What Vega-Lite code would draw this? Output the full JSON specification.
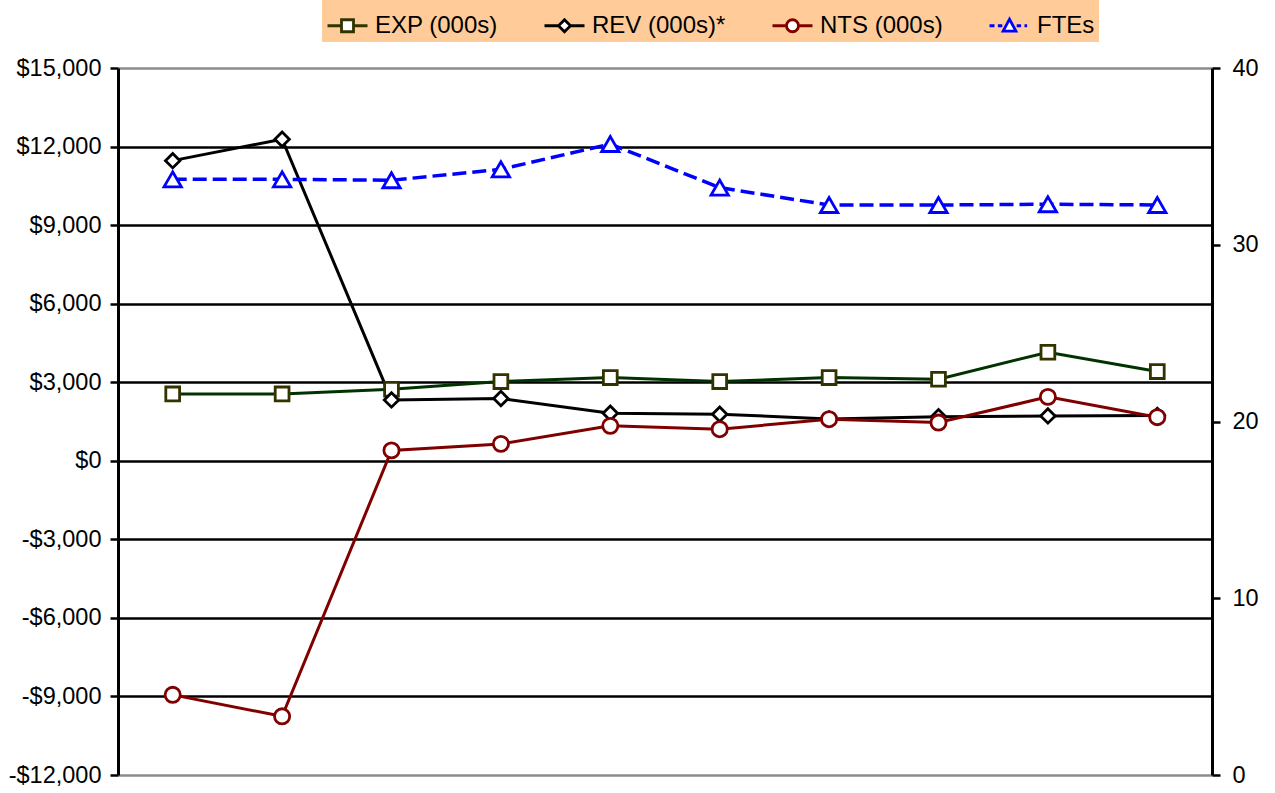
{
  "$schema": "https://vega.github.io/schema/vega-lite/v6.json",
  "autosize": {"type": "none"},
  "padding": {"left": 118, "top": 68, "right": 63, "bottom": 18},
  "width": 1094,
  "height": 707,
  "background": "white",
  "config": {
    "view": {"stroke": null},
    "font": "Liberation Sans"
  },
  "data": {
    "values": [
      {"x": 1, "series": "EXP (000s)", "value": 2554},
      {"x": 2, "series": "EXP (000s)", "value": 2554},
      {"x": 3, "series": "EXP (000s)", "value": 2734},
      {"x": 4, "series": "EXP (000s)", "value": 3024},
      {"x": 5, "series": "EXP (000s)", "value": 3177},
      {"x": 6, "series": "EXP (000s)", "value": 3024},
      {"x": 7, "series": "EXP (000s)", "value": 3177},
      {"x": 8, "series": "EXP (000s)", "value": 3116},
      {"x": 9, "series": "EXP (000s)", "value": 4147},
      {"x": 10, "series": "EXP (000s)", "value": 3406},
      {"x": 1, "series": "REV (000s)*", "value": 11462},
      {"x": 2, "series": "REV (000s)*", "value": 12280},
      {"x": 3, "series": "REV (000s)*", "value": 2325},
      {"x": 4, "series": "REV (000s)*", "value": 2375},
      {"x": 5, "series": "REV (000s)*", "value": 1817},
      {"x": 6, "series": "REV (000s)*", "value": 1779},
      {"x": 7, "series": "REV (000s)*", "value": 1600},
      {"x": 8, "series": "REV (000s)*", "value": 1680},
      {"x": 9, "series": "REV (000s)*", "value": 1714},
      {"x": 10, "series": "REV (000s)*", "value": 1730},
      {"x": 1, "series": "NTS (000s)", "value": -8939},
      {"x": 2, "series": "NTS (000s)", "value": -9760},
      {"x": 3, "series": "NTS (000s)", "value": 397},
      {"x": 4, "series": "NTS (000s)", "value": 645},
      {"x": 5, "series": "NTS (000s)", "value": 1333},
      {"x": 6, "series": "NTS (000s)", "value": 1206},
      {"x": 7, "series": "NTS (000s)", "value": 1588},
      {"x": 8, "series": "NTS (000s)", "value": 1459},
      {"x": 9, "series": "NTS (000s)", "value": 2440},
      {"x": 10, "series": "NTS (000s)", "value": 1665},
      {"x": 1, "series": "FTEs", "value": 33.7},
      {"x": 2, "series": "FTEs", "value": 33.7},
      {"x": 3, "series": "FTEs", "value": 33.65},
      {"x": 4, "series": "FTEs", "value": 34.27},
      {"x": 5, "series": "FTEs", "value": 35.7},
      {"x": 6, "series": "FTEs", "value": 33.23},
      {"x": 7, "series": "FTEs", "value": 32.25},
      {"x": 8, "series": "FTEs", "value": 32.25},
      {"x": 9, "series": "FTEs", "value": 32.29},
      {"x": 10, "series": "FTEs", "value": 32.25}
    ]
  },
  "encoding": {
    "x": {"field": "x", "type": "ordinal", "scale": {"type": "point", "padding": 0.5}, "axis": null}
  },
  "layer": [
    {
      "transform": [{"filter": "datum.series !== 'FTEs'"}],
      "encoding": {
        "y": {
          "field": "value", "type": "quantitative",
          "scale": {"domain": [-12000, 15000], "nice": false, "zero": false},
          "axis": {
            "orient": "left", "title": null,
            "values": [-12000, -9000, -6000, -3000, 0, 3000, 6000, 9000, 12000, 15000],
            "labelExpr": "(datum.value < 0 ? '-' : '') + '$' + format(abs(datum.value), ',')",
            "labelFont": "Liberation Sans", "labelFontSize": 23.5, "labelColor": "black",
            "labelPadding": 9,
            "domainColor": "black", "domainWidth": 3,
            "tickColor": "black", "tickWidth": 2.5, "tickSize": 8,
            "grid": true,
            "gridColor": {"condition": {"test": "datum.value === 15000 || datum.value === -12000", "value": "#8c8c8c"}, "value": "black"},
            "gridWidth": 2.7
          }
        }
      },
      "layer": [
        {
          "mark": {"type": "line", "strokeWidth": 3},
          "encoding": {
            "color": {
              "field": "series", "type": "nominal",
              "scale": {"domain": ["EXP (000s)", "REV (000s)*", "NTS (000s)"], "range": ["#003300", "#000000", "#800000"]},
              "legend": null
            }
          }
        },
        {
          "mark": {"type": "point", "filled": true, "fill": "white", "strokeWidth": 2.8, "opacity": 1},
          "encoding": {
            "stroke": {
              "field": "series", "type": "nominal",
              "scale": {"domain": ["EXP (000s)", "REV (000s)*", "NTS (000s)"], "range": ["#333300", "#000000", "#800000"]},
              "legend": null
            },
            "shape": {
              "field": "series", "type": "nominal",
              "scale": {"domain": ["EXP (000s)", "REV (000s)*", "NTS (000s)"], "range": ["square", "diamond", "circle"]},
              "legend": null
            },
            "size": {
              "field": "series", "type": "nominal",
              "scale": {"domain": ["EXP (000s)", "REV (000s)*", "NTS (000s)"], "range": [190, 230, 200]},
              "legend": null
            }
          }
        }
      ]
    },
    {
      "transform": [{"filter": "datum.series === 'FTEs'"}],
      "encoding": {
        "y": {
          "field": "value", "type": "quantitative",
          "scale": {"domain": [0, 40], "nice": false},
          "axis": {
            "orient": "right", "title": null,
            "values": [0, 10, 20, 30, 40],
            "labelFont": "Liberation Sans", "labelFontSize": 23.5, "labelColor": "black",
            "labelPadding": 12,
            "domainColor": "black", "domainWidth": 3,
            "tickColor": "black", "tickWidth": 2.5, "tickSize": 8,
            "grid": false
          }
        }
      },
      "layer": [
        {
          "mark": {"type": "line", "strokeWidth": 3.5, "color": "#0000FF", "strokeDash": [14, 6]},
          "encoding": {}
        },
        {
          "mark": {"type": "point", "shape": "triangle-up", "filled": true, "fill": "white", "stroke": "#0000FF", "strokeWidth": 2.8, "opacity": 1, "size": 300},
          "encoding": {}
        }
      ]
    },
    {
      "mark": {"type": "point", "filled": true, "fill": "white", "opacity": 0, "strokeWidth": 2.5},
      "encoding": {
        "y": {"field": "value", "type": "quantitative", "axis": null},
        "shape": {
          "field": "series", "type": "nominal",
          "scale": {
            "domain": ["EXP (000s)", "REV (000s)*", "NTS (000s)", "FTEs"],
            "range": [
              "M-1,0H-0.3M-0.3,-0.3H0.3V0.3H-0.3ZM0.3,0H1",
              "M-1,0H-0.3M0,-0.3L0.3,0L0,0.3L-0.3,0ZM0.3,0H1",
              "M-1,0H-0.3M-0.3,0A0.3,0.3 0 1,1 0.3,0A0.3,0.3 0 1,1 -0.3,0ZM0.3,0H1",
              "M-1,0H-0.75M-0.58,0H-0.36M-0.32,0.27L0,-0.33L0.32,0.27ZM0.36,0H0.58M0.75,0H0.88"
            ]
          },
          "legend": {
            "title": null, "orient": "none", "direction": "horizontal",
            "legendX": 204, "legendY": -68,
            "fillColor": "#FFCC99", "padding": 4,
            "labelFont": "Liberation Sans", "labelFontSize": 24, "labelColor": "black",
            "labelOffset": 6, "columnPadding": 40,
            "symbolSize": 1600, "symbolStrokeWidth": 2.8, "symbolOpacity": 1,
            "symbolFillColor": "white"
          }
        },
        "stroke": {
          "field": "series", "type": "nominal",
          "scale": {
            "domain": ["EXP (000s)", "REV (000s)*", "NTS (000s)", "FTEs"],
            "range": ["#333300", "#000000", "#800000", "#0000FF"]
          },
          "legend": {
            "title": null, "orient": "none", "direction": "horizontal",
            "legendX": 204, "legendY": -68,
            "fillColor": "#FFCC99", "padding": 4,
            "labelFont": "Liberation Sans", "labelFontSize": 24, "labelColor": "black",
            "labelOffset": 6, "columnPadding": 40,
            "symbolSize": 1600, "symbolStrokeWidth": 2.8, "symbolOpacity": 1,
            "symbolFillColor": "white"
          }
        }
      }
    }
  ],
  "resolve": {
    "scale": {"y": "independent", "shape": "independent", "stroke": "independent", "color": "independent", "size": "independent"},
    "legend": {"shape": "shared", "stroke": "shared"}
  }
}
